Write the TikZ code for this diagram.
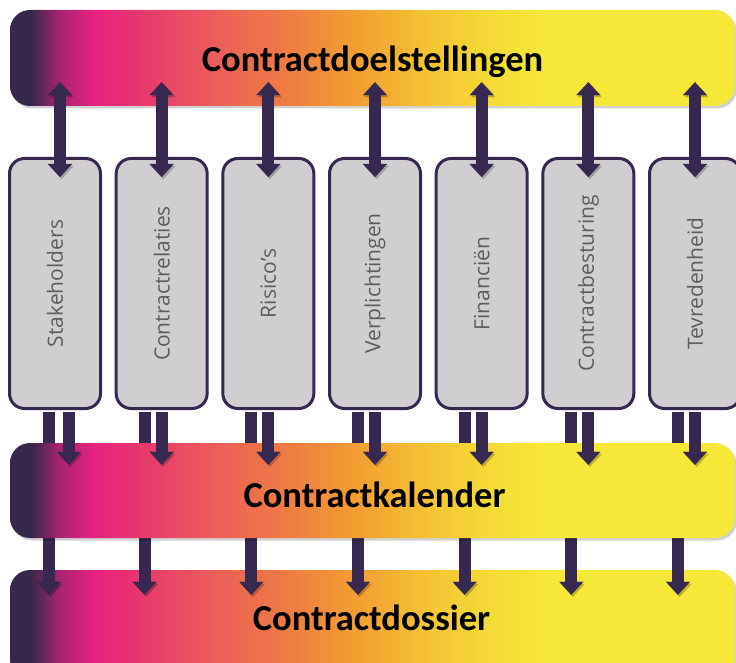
\documentclass[tikz,border=0pt]{standalone}
\usepackage{fontspec}
\setmainfont{Open Sans}
\newfontfamily\titlefont{Carlito}
\usetikzlibrary{arrows.meta,calc}

% palette
\definecolor{ink}{RGB}{54,40,78}
\definecolor{boxgray}{HTML}{D0CED1}
\definecolor{labelgray}{HTML}{5E5E5E}
\definecolor{g0}{HTML}{352848}
\definecolor{g1}{HTML}{A8246F}
\definecolor{g2}{HTML}{E8227F}
\definecolor{g3}{HTML}{E63270}
\definecolor{g4}{HTML}{EA5660}
\definecolor{g5}{HTML}{EC6A50}
\definecolor{g6}{HTML}{EF7D42}
\definecolor{g7}{HTML}{F3A032}
\definecolor{g8}{HTML}{F5C434}
\definecolor{g9}{HTML}{F4DE36}
\definecolor{g10}{HTML}{F5E838}

% left-to-right band colour (path box maps to 25bp..75bp)
\pgfdeclarehorizontalshading{bargrad}{100bp}{%
  color(0bp)=(g0); color(26.4bp)=(g0); color(28.4bp)=(g1); color(30.9bp)=(g2);
  color(33.3bp)=(g3); color(38.1bp)=(g4); color(40.9bp)=(g5); color(44.3bp)=(g6);
  color(49.1bp)=(g7); color(54bp)=(g8); color(58.8bp)=(g9); color(62.2bp)=(g10);
  color(100bp)=(g10)}

\tikzset{
  band/.style={shading=bargrad, rounded corners=20pt, inner sep=0pt,
    minimum width=725pt,
    preaction={fill=black, opacity=.18, transform canvas={shift={(2pt,-2.5pt)}}}},
  bandtitle/.style={font=\titlefont\bfseries\fontsize{36.5}{40}\selectfont,
    text=black, anchor=base, inner sep=0pt},
  colbox/.style={draw=ink, line width=3pt, fill=boxgray, rounded corners=15pt,
    minimum width=91pt, minimum height=250pt, inner sep=0pt,
    font=\fontsize{21}{21}\selectfont, text=labelgray},
  tip/.tip={Triangle[width=24pt, length=13pt, line width=0.01pt]},
  flow/.style={draw=ink, line width=12pt,
    preaction={draw=black, opacity=.22, transform canvas={shift={(1.5pt,-2pt)}}}},
  oneway/.style={flow, -tip},
  twoway/.style={flow, tip-tip},
}

\begin{document}
\begin{tikzpicture}[x=1pt, y=1pt]
\useasboundingbox (0,0) rectangle (736,662);
\clip (0,0) rectangle (736,662);

% lowest band
\node[band, minimum height=110pt] (dos) at (372.5,37) {};

% the seven columns
\foreach \name/\label [count=\i] in {b1/Stakeholders, b2/Contractrelaties,
    b3/Risico’s, b4/Verplichtingen, b5/Financiën, b6/Contractbesturing,
    b7/Tevredenheid}
  \node[colbox] (\name) at ({55+106.667*(\i-1)},378.5) {\rotatebox{90}{\label}};

% columns straight down to the file band
\foreach \name/\dx in {b1/-6, b2/-17, b3/-17, b4/-17, b5/-17, b6/-17, b7/-17}
  \draw[oneway] ($(\name.south)+(\dx,-1.5)$) -- ($(dos.north -| \name.south)+(\dx,-25)$);

% middle band
\node[band, minimum height=95pt] (kal) at (372.5,171.5) {};

% columns into the calendar band
\foreach \name/\dx in {b1/14, b2/0, b3/0, b4/0, b5/0, b6/0, b7/0}
  \draw[oneway] ($(\name.south)+(\dx,-1.5)$) -- ($(kal.north -| \name.south)+(\dx,-22)$);

% top band
\node[band, minimum height=96pt] (goals) at (372.5,604) {};

% two-way links between goals and columns
\foreach \name/\dx in {b1/5, b2/0, b3/0, b4/0, b5/0, b6/0, b7/0}
  \draw[twoway] ($(\name.north)+(\dx,-20)$) -- ($(goals.south -| \name.north)+(\dx,24)$);

% band titles
\node[bandtitle] (goalsT) at ($(goals.center)+(0,-14)$) {Contractdoelstellingen};
\node[bandtitle] (kalT) at ($(kal.center)+(2,-16.5)$) {Contractkalender};
\node[bandtitle] (dosT) at ($(dos.center)+(-1,-5)$) {Contractdossier};
\end{tikzpicture}
\end{document}
